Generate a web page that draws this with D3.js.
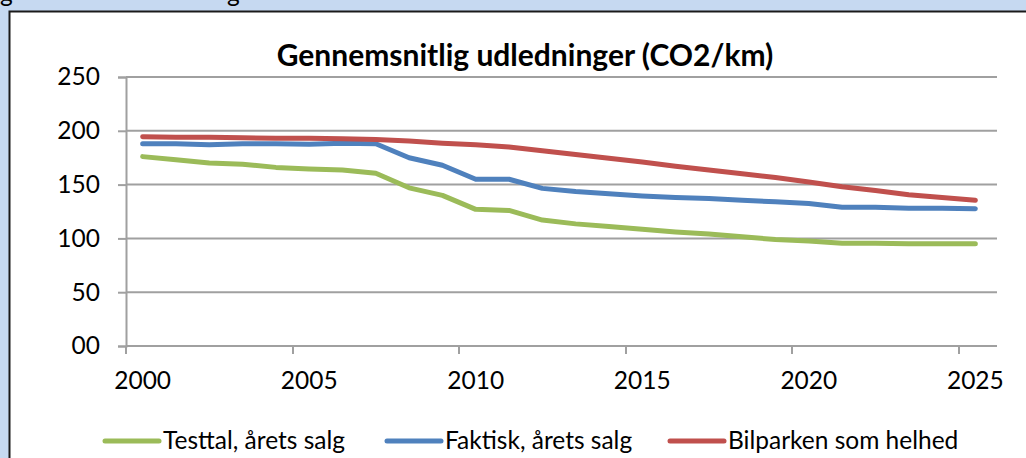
<!DOCTYPE html>
<html>
<head>
<meta charset="utf-8">
<script src="https://cdn.jsdelivr.net/npm/d3@7"></script>
<style>
    html, body { margin: 0; padding: 0; background: #C6D9F1; }
    svg { display: block; }
    text { font-family: Lato, "Open Sans", sans-serif; fill: #000; }
</style>
</head>
<body>
<div id="chart"></div>
<script>
var years = d3.range(2000, 2026);
var yTickValues = [0, 50, 100, 150, 200, 250];
var yTickLabels = ['00', '50', '100', '150', '200', '250'];
var xTickYears = [2000, 2005, 2010, 2015, 2020, 2025];
var seriesNames = ['Testtal, årets salg', 'Faktisk, årets salg', 'Bilparken som helhed'];
var testtal = [176, 173, 170, 169, 166, 164.5, 163.5, 160.5, 147, 140, 127, 126, 117, 113.5, 111, 108.5, 106, 104, 101.5, 99, 97.5, 95.5, 95.5, 95, 95, 95];
var faktisk = [188, 188, 187, 188, 188, 187.5, 188.5, 188, 175, 168, 155, 155, 146.5, 143.5, 141.5, 139.5, 138, 137, 135.5, 134, 132.5, 129, 129, 128, 128, 127.5];
var bilpark = [194.5, 194, 194, 193.5, 193, 193, 192.5, 192, 190.5, 188.5, 187, 185, 181.5, 178, 174.5, 171, 167, 163.5, 160, 156.5, 152.5, 148, 144.5, 140.5, 138, 135.5];
var title = 'Gennemsnitlig udledninger (CO2/km)';

(function() {
    var width = 1026,
        height = 458,
        plot = { left: 126, right: 997, top: 77, bottom: 346 },
        colors = ['#9BBB59', '#4F81BD', '#C0504D'],
        grid_color = '#A0A0A0',
        font_size = '24.5px';

    var svg = d3.select('#chart').append('svg')
        .attr('width', width)
        .attr('height', height);

    // caption line above the frame, mostly cut off by the top edge
    svg.append('text').attr('x', 0).attr('y', 2).style('font-size', font_size).text('g');
    svg.append('text').attr('x', 227).attr('y', 2).style('font-size', font_size).text('g');

    // white frame
    svg.append('rect')
        .attr('x', 9.5)
        .attr('y', 11.5)
        .attr('width', width + 10)
        .attr('height', height + 10)
        .attr('fill', 'white')
        .attr('stroke', '#1a1a1a')
        .attr('stroke-width', 2);

    var x = d3.scaleBand()
        .domain(years)
        .range([plot.left, 992])
        .padding(0);

    var y = d3.scaleLinear()
        .domain([0, 250])
        .range([plot.bottom, plot.top]);

    // gridlines
    svg.append('g')
        .selectAll('line')
        .data(yTickValues.slice(1))
        .enter().append('line')
        .attr('x1', plot.left)
        .attr('x2', plot.right)
        .attr('y1', function(d) { return y(d); })
        .attr('y2', function(d) { return y(d); })
        .attr('stroke', grid_color)
        .attr('stroke-width', 2);

    // y axis
    var yAxis = svg.append('g')
        .attr('transform', 'translate(' + plot.left + ',0)')
        .call(d3.axisLeft(y)
            .tickValues(yTickValues)
            .tickSize(8)
            .tickPadding(18)
            .tickFormat(function(d, i) { return yTickLabels[i]; }));
    yAxis.select('.domain').attr('stroke', grid_color).attr('stroke-width', 2);
    yAxis.selectAll('line').attr('stroke', grid_color).attr('stroke-width', 2);
    yAxis.selectAll('text')
        .style('font-size', font_size)
        .style('font-family', 'Lato, sans-serif')
        .attr('fill', '#000');

    // x axis: ticks on category boundaries, labels centred on categories
    var xg = svg.append('g');
    xg.append('line')
        .attr('x1', plot.left)
        .attr('x2', plot.right)
        .attr('y1', plot.bottom)
        .attr('y2', plot.bottom)
        .attr('stroke', grid_color)
        .attr('stroke-width', 2);
    xg.selectAll('.tick')
        .data(xTickYears)
        .enter().append('line')
        .attr('x1', function(d) { return Math.round(x(d)); })
        .attr('x2', function(d) { return Math.round(x(d)); })
        .attr('y1', plot.bottom)
        .attr('y2', plot.bottom + 8)
        .attr('stroke', grid_color)
        .attr('stroke-width', 2);
    xg.selectAll('text')
        .data(xTickYears)
        .enter().append('text')
        .attr('x', function(d) { return x(d) + x.bandwidth() / 2; })
        .attr('y', 389)
        .attr('text-anchor', 'middle')
        .style('font-size', font_size)
        .text(function(d) { return d; });

    // lines
    var all = [testtal, faktisk, bilpark];
    var line = d3.line()
        .x(function(d, i) { return x(years[i]) + x.bandwidth() / 2; })
        .y(function(d) { return y(d); });

    svg.append('g')
        .selectAll('path')
        .data(all)
        .enter().append('path')
        .attr('d', line)
        .attr('fill', 'none')
        .attr('stroke', function(d, i) { return colors[i]; })
        .attr('stroke-width', 5)
        .attr('stroke-linejoin', 'round')
        .attr('stroke-linecap', 'round');

    // title
    svg.append('text')
        .attr('x', 525)
        .attr('y', 66)
        .attr('text-anchor', 'middle')
        .style('font-size', '30px')
        .style('font-weight', 'bold')
        .text(title);

    // legend
    var legend_x = [105, 387, 670];
    var legend = svg.append('g')
        .selectAll('g')
        .data(seriesNames)
        .enter().append('g')
        .attr('transform', function(d, i) { return 'translate(' + legend_x[i] + ',441)'; });
    legend.append('line')
        .attr('x1', 0)
        .attr('x2', 54)
        .attr('stroke', function(d, i) { return colors[i]; })
        .attr('stroke-width', 5)
        .attr('stroke-linecap', 'round');
    legend.append('text')
        .attr('x', 58)
        .attr('y', 8)
        .style('font-size', font_size)
        .text(function(d) { return d; });
})();
</script>
</body>
</html>
